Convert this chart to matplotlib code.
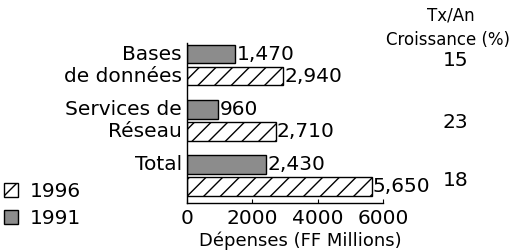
import numpy as np
import matplotlib as mpl
mpl.use("Agg")
import matplotlib.pyplot as plt
from matplotlib.patches import Patch

# data
categories = ["Bases\nde données", "Services de\nRéseau", "Total"]
val_1991 = [1470, 960, 2430]
val_1996 = [2940, 2710, 5650]
growth = ["15", "23", "18"]
xticks = [0, 2000, 4000, 6000]

plt.rcParams.update({'font.family': 'DejaVu Sans',
                     'font.size': 14.5,
                     'hatch.linewidth': 1.0,
                     'axes.linewidth': 1.0})

fig = plt.figure(figsize=(5.16, 2.5), dpi=100)
ax = fig.add_axes([0.3624, 0.188, 0.3798, 0.64])

y = np.arange(len(categories))
off = 0.2
h = 0.34

ax.barh(y - off, val_1991, height=h, color='#8c8c8c', edgecolor='black', linewidth=1.0)
ax.barh(y + off, val_1996, height=h, color='white', edgecolor='black', linewidth=1.0, hatch='//')

for i in range(len(categories)):
    ax.text(val_1991[i] + 40, y[i] - off, f"{val_1991[i]:,}", ha='left', va='center')
    ax.text(val_1996[i] + 40, y[i] + off, f"{val_1996[i]:,}", ha='left', va='center')
    # category labels, one line per bar
    lines = categories[i].split("\n")
    for j, line in enumerate(lines):
        ax.text(-150, y[i] - off + 2 * off * j, line, ha='right', va='center')

# growth column
growth_y = [-0.09, 1.04, 2.1]
for g, gy in zip(growth, growth_y):
    ax.text(1.37, gy, g, ha='center', va='center',
            transform=mpl.transforms.blended_transform_factory(ax.transAxes, ax.transData))
fig.text(451 / 516, 1 - 16 / 250, "Tx/An", ha='center', va='center', fontsize=12)
fig.text(448 / 516, 1 - 40 / 250, "Croissance (%)", ha='center', va='center', fontsize=12)

ax.set_xlim(0, 6000)
ax.set_ylim(2.5, -0.4)
ax.set_xticks(xticks)
ax.set_xticklabels([str(t) for t in xticks])
ax.set_yticks([])
ax.tick_params(axis='x', direction='in', length=3, pad=4)
ax.spines['top'].set_visible(False)
ax.spines['right'].set_visible(False)

ax.set_xlabel("Dépenses (FF Millions)", fontsize=13)
ax.xaxis.set_label_coords(0.58, -0.18)

handles = [Patch(facecolor='white', edgecolor='black', hatch='//'),
           Patch(facecolor='#8c8c8c', edgecolor='black')]
fig.legend(handles, ["1996", "1991"], loc='lower left', bbox_to_anchor=(0.0, 0.07),
           frameon=False, handlelength=0.7, handleheight=0.7, handletextpad=0.6,
           labelspacing=0.4, borderaxespad=0.0, borderpad=0.2)

plt.savefig('out.png', dpi=100)
